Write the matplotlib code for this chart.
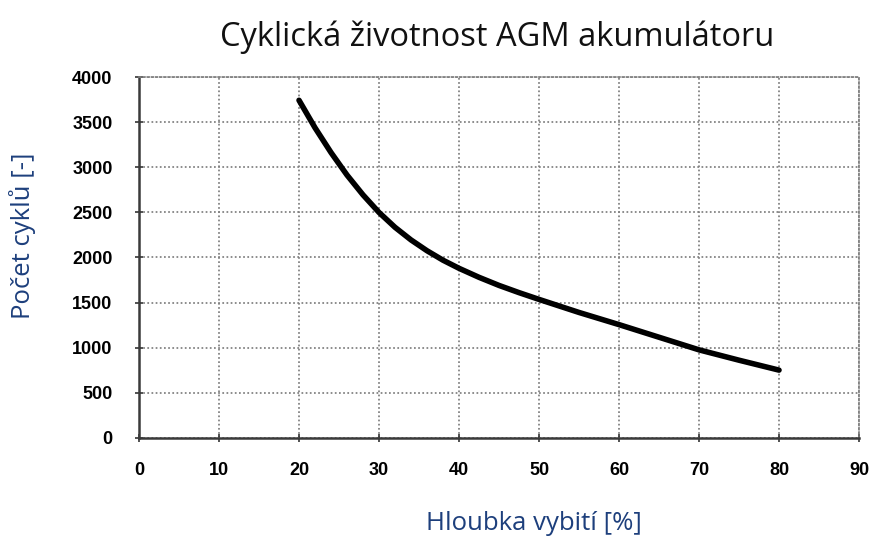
import matplotlib
matplotlib.use("Agg")
import matplotlib.pyplot as plt

# Cycle life of an AGM battery vs. depth of discharge
depth_pct = [20, 22, 24, 26, 28, 30, 32, 34, 36, 38, 40, 42.5, 45, 47.5,
             50, 55, 60, 65, 70, 75, 80]
cycles = [3745, 3440, 3165, 2915, 2695, 2500, 2335, 2195, 2075, 1970, 1880, 1780, 1690, 1610,
          1535, 1390, 1255, 1115, 975, 860, 750]

x_ticks = [0, 10, 20, 30, 40, 50, 60, 70, 80, 90]
y_ticks = [0, 500, 1000, 1500, 2000, 2500, 3000, 3500, 4000]

title = "Cyklická životnost AGM akumulátoru"
x_label = "Hloubka vybití [%]"
y_label = "Počet cyklů [-]"

label_color = "#1d3f7c"
grid_color = "#7f7f7f"
dots = (0, (1, 1.4))

fig = plt.figure(figsize=(8.77, 5.36), dpi=100)
fig.patch.set_facecolor("white")
ax = fig.add_axes([0.1585, 0.1834, 0.821, 0.6724])

ax.plot(depth_pct, cycles, color="black", linewidth=4.0, solid_capstyle="round",
        solid_joinstyle="round", zorder=3)

ax.set_xlim(0, 90)
ax.set_ylim(0, 4000)
ax.set_xticks(x_ticks)
ax.set_yticks(y_ticks)

tick_font = dict(family="Liberation Sans", weight="bold", size=13)
ax.set_xticklabels([str(v) for v in x_ticks], fontdict=tick_font)
ax.set_yticklabels([str(v) for v in y_ticks], fontdict=tick_font)
ax.tick_params(axis="both", direction="inout", length=6, width=1.2, color="#333333")
ax.tick_params(axis="x", pad=14.5)
ax.tick_params(axis="y", pad=16)

ax.grid(True, color=grid_color, linestyle=dots, linewidth=1.25, zorder=1)

for side in ("left", "bottom"):
    ax.spines[side].set_color("#3a3a3a")
    ax.spines[side].set_linewidth(1.8)
for side in ("top", "right"):
    ax.spines[side].set_color(grid_color)
    ax.spines[side].set_linestyle(dots)
    ax.spines[side].set_linewidth(1.25)

fig.text(0.567, 0.931, title, ha="center", va="center", fontsize=23.5,
         family="Open Sans", color="#111111")
fig.text(0.609, 0.011, x_label, ha="center", va="baseline", fontsize=18.5,
         family="Open Sans", color=label_color)
fig.text(0.026, 0.56, y_label, ha="center", va="center", fontsize=18.5,
         family="Open Sans", color=label_color, rotation=90)

fig.savefig("out.png", dpi=100, facecolor="white")
